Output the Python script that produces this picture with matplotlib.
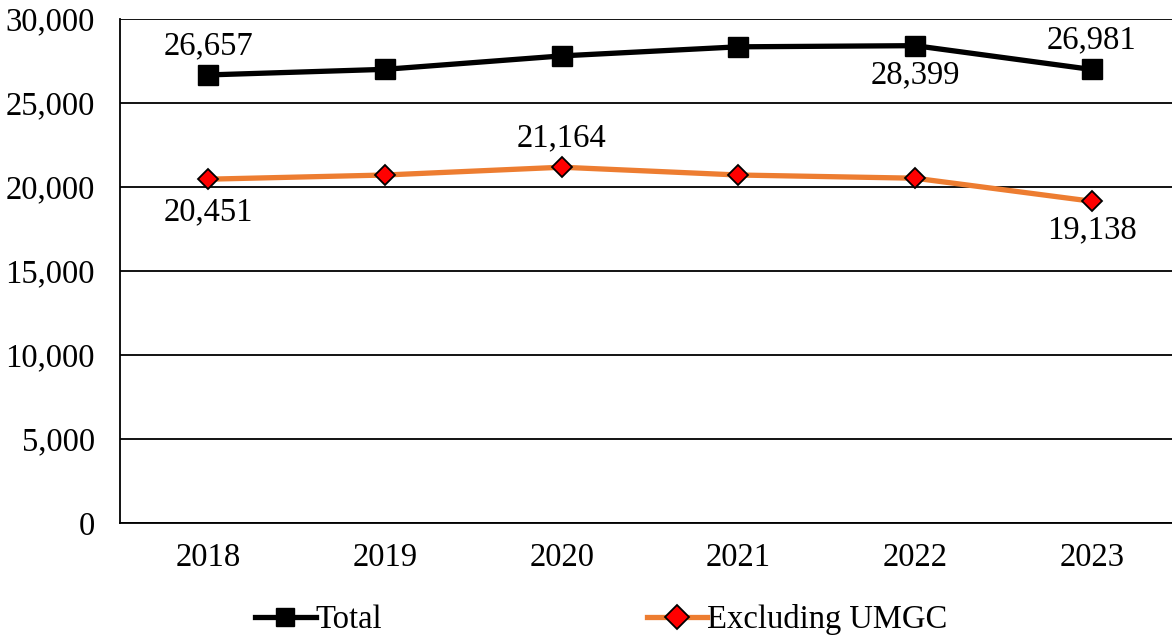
import numpy as np
import matplotlib.pyplot as plt

years = ['2018', '2019', '2020', '2021', '2022', '2023']
total = [26657, 26990, 27790, 28330, 28399, 26981]
excl = [20451, 20700, 21164, 20700, 20510, 19138]

# data labels: index -> vertical offset in points (centre of text)
total_labels = {0: 21, 4: -21, 5: 21}
excl_labels = {0: -24, 2: 21, 5: -21}

plt.rcParams['font.family'] = ['Liberation Serif', 'DejaVu Serif']
fs = 23.5

fig = plt.figure(figsize=(11.72, 6.36), dpi=100)
ax = fig.add_axes([0.1024, 0.178, 0.9045, 0.7925])

x = np.arange(len(years))
ax.plot(x, total, color='black', lw=3.8, marker='s', ms=15,
        mfc='black', mec='black', label='Total', zorder=4)
ax.plot(x, excl, color='#ED7D31', lw=3.8, marker='D', ms=10,
        mfc='#FF0000', mec='black', mew=1.3, label='Excluding UMGC', zorder=4)

for i, off in total_labels.items():
    ax.annotate(f'{total[i]:,}', (x[i], total[i]), xytext=(0, off),
                textcoords='offset points', ha='center', va='center', fontsize=fs)
for i, off in excl_labels.items():
    ax.annotate(f'{excl[i]:,}', (x[i], excl[i]), xytext=(0, off),
                textcoords='offset points', ha='center', va='center', fontsize=fs)

ax.set_xlim(-0.5, 5.5)
ax.set_ylim(0, 30000)
ax.set_yticks(np.arange(0, 30001, 5000))
ax.set_yticklabels([f'{v:,}' for v in range(0, 30001, 5000)])
ax.set_xticks(x)
ax.set_xticklabels(years)
ax.tick_params(axis='both', length=0, labelsize=fs)
ax.tick_params(axis='y', pad=18)
ax.tick_params(axis='x', pad=14)
ax.yaxis.grid(True, color='black', lw=1.3)
ax.set_axisbelow(True)
for s in ['top', 'right']:
    ax.spines[s].set_visible(False)
ax.spines['left'].set_linewidth(1.3)
ax.spines['bottom'].set_linewidth(1.3)

leg = fig.legend(loc='lower center', bbox_to_anchor=(0.513, -0.045), ncol=2,
                 frameon=False, fontsize=fs, handlelength=1.85, handletextpad=0.0,
                 columnspacing=8.1)
leg.legend_handles[0].set_markersize(13)
leg.legend_handles[1].set_markersize(12)

fig.savefig('out.png', dpi=100)
